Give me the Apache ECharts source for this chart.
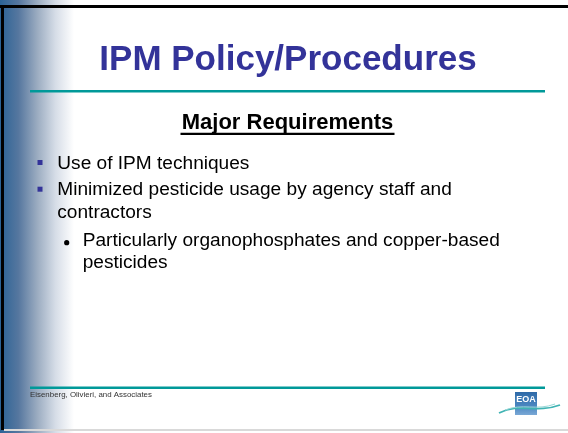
<!DOCTYPE html>
<html>
<head>
<meta charset="utf-8">
<script src="https://cdn.jsdelivr.net/npm/echarts@6/dist/echarts.min.js"></script>
<style>html,body{margin:0;padding:0;background:#fff;}#c{width:568px;height:433px;}</style>
</head>
<body>
<div id="c"></div>
<script>
var titleText = 'IPM Policy/Procedures';
var subtitleText = 'Major Requirements';
var bulletLines = ['Use of IPM techniques', 'Minimized pesticide usage by agency staff and', 'contractors'];
var bulletStarts = [true, true, false];
var subLines = ['Particularly organophosphates and copper-based', 'pesticides'];
var subStarts = [true, false];
var footerText = 'Eisenberg, Olivieri, and Associates';
var logoText = 'EOA';

var chart = echarts.init(document.getElementById('c'), null, {renderer: 'canvas'});
var FONT = 'Liberation Sans, Arial, Helvetica, sans-serif';
var g = [];
// background gradient
g.push({type: 'rect', shape: {x: 0, y: 0, width: 74, height: 433}, style: {fill: new echarts.graphic.LinearGradient(0, 0, 1, 0, [
  {offset: 0, color: '#2b6396'}, {offset: 0.25, color: '#56779f'}, {offset: 0.5, color: '#9aabc0'}, {offset: 0.75, color: '#d6dde7'}, {offset: 1, color: '#ffffff'}])}, silent: true});
// borders
g.push({type: 'rect', shape: {x: 0, y: 5, width: 568, height: 3}, style: {fill: '#000'}});
g.push({type: 'rect', shape: {x: 1, y: 5, width: 3, height: 425}, style: {fill: '#000'}});
g.push({type: 'rect', shape: {x: 4, y: 429, width: 564, height: 2}, style: {fill: '#d9d9d9'}});
// title
g.push({type: 'text', x: 288, y: 60, style: {text: titleText, font: 'bold 35px ' + FONT, fill: '#333399', textAlign: 'center', textVerticalAlign: 'middle'}});
g.push({type: 'rect', shape: {x: 30, y: 90, width: 515, height: 2.5}, style: {fill: '#009999'}});
// subtitle
g.push({type: 'text', x: 287.5, y: 123.3, style: {text: subtitleText, font: 'bold 22px ' + FONT, fill: '#000', textAlign: 'center', textVerticalAlign: 'middle'}});
g.push({type: 'rect', shape: {x: 180.5, y: 132.8, width: 214, height: 2.2}, style: {fill: '#000'}});
// bullets
var b1 = [170, 196.7, 219.3];
bulletLines.forEach(function (t, i) {
  g.push({type: 'text', x: 57.3, y: b1[i] - 6.6, style: {text: t, font: '19.1px ' + FONT, fill: '#000', textAlign: 'left', textVerticalAlign: 'middle'}});
  if (bulletStarts[i]) g.push({type: 'rect', shape: {x: 37.5, y: b1[i] - 10, width: 5, height: 5}, style: {fill: '#333399'}});
});
var b2 = [247.7, 269.3];
subLines.forEach(function (t, i) {
  g.push({type: 'text', x: 82.7, y: b2[i] - 6.6, style: {text: t, font: '19.1px ' + FONT, fill: '#000', textAlign: 'left', textVerticalAlign: 'middle'}});
  if (subStarts[i]) g.push({type: 'circle', shape: {cx: 66.7, cy: b2[i] - 5, r: 2.6}, style: {fill: '#000'}});
});
// footer
g.push({type: 'rect', shape: {x: 30, y: 386.5, width: 515, height: 2.5}, style: {fill: '#009999'}});
g.push({type: 'text', x: 30, y: 395, style: {text: footerText, font: '7.9px ' + FONT, fill: '#333', textAlign: 'left', textVerticalAlign: 'middle'}});
// logo
g.push({type: 'rect', shape: {x: 515, y: 392, width: 22, height: 23}, style: {fill: new echarts.graphic.LinearGradient(0, 0, 0, 1, [{offset: 0, color: '#2f6aa8'}, {offset: 0.6, color: '#4a86c0'}, {offset: 1, color: '#7aa8d6'}])}});
g.push({type: 'text', x: 526, y: 400, style: {text: logoText, font: 'bold 9px ' + FONT, fill: '#fff', textAlign: 'center', textVerticalAlign: 'middle'}});
g.push({type: 'bezierCurve', shape: {x1: 499, y1: 413, x2: 560, y2: 405, cpx1: 520, cpy1: 402, cpx2: 535, cpy2: 414}, style: {stroke: '#3fb3b3', lineWidth: 1.8, fill: null}});
g.push({type: 'bezierCurve', shape: {x1: 505, y1: 410, x2: 555, y2: 404, cpx1: 522, cpy1: 403, cpx2: 537, cpy2: 411}, style: {stroke: '#9ad8d8', lineWidth: 1, fill: null}});

chart.setOption({animation: false, backgroundColor: '#fff', graphic: {elements: g}});
</script>
</body>
</html>
